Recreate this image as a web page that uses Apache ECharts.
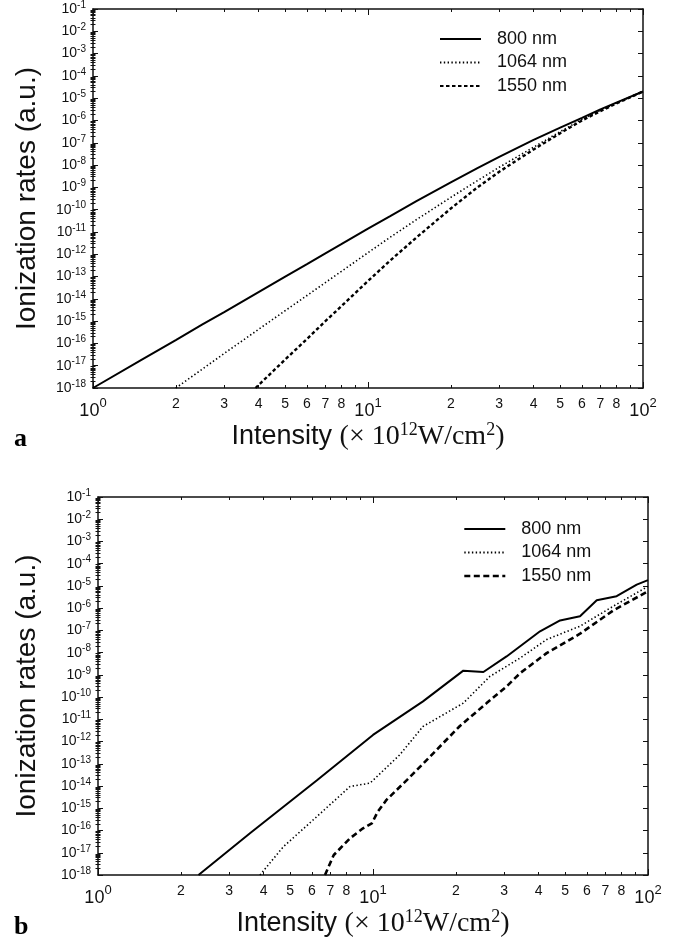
<!DOCTYPE html>
<html>
<head>
<meta charset="utf-8">
<script src="https://cdn.jsdelivr.net/npm/echarts@6/dist/echarts.min.js"></script>
<style>
  html, body { margin: 0; padding: 0; background: #fff; }
  #chart { width: 683px; height: 945px; }
</style>
</head>
<body>
<div id="chart"></div>
<script>
// values; rates are stored as log10 of the rate (a.u.)
const seriesNames = ['800 nm', '1064 nm', '1550 nm'];

// panel a
const intensityA800 = [1, 1.5, 2, 2.5, 3, 4, 5, 6, 7, 8, 10, 12, 15, 20, 25, 30, 40, 50, 60, 70, 80, 100];
const rateA800 = [-18, -16.74, -15.85, -15.15, -14.6, -13.7, -13.0, -12.44, -11.96, -11.55, -10.85, -10.3, -9.62, -8.78, -8.14, -7.63, -6.87, -6.32, -5.88, -5.5, -5.2, -4.7];
const intensityA1064 = [2, 2.5, 3, 4, 5, 6, 7, 8, 10, 12, 15, 20, 25, 30, 40, 50, 60, 70, 80, 100];
const rateA1064 = [-18, -17.15, -16.45, -15.37, -14.53, -13.85, -13.27, -12.77, -11.93, -11.25, -10.45, -9.45, -8.7, -8.1, -7.2, -6.5, -5.95, -5.55, -5.22, -4.7];
const intensityA1550 = [3.9, 5, 6, 7, 8, 10, 12, 15, 20, 25, 30, 40, 50, 60, 70, 80, 100];
const rateA1550 = [-18, -16.72, -15.8, -15.0, -14.33, -13.2, -12.3, -11.25, -9.95, -9.0, -8.3, -7.3, -6.57, -6.0, -5.58, -5.24, -4.7];

// panel b
const intensityB800 = [2.32, 3.57, 6.24, 10, 15.2, 21.3, 25.2, 30.6, 40.5, 47.9, 56.6, 65.1, 76.9, 91, 100];
const rateB800 = [-18, -16.12, -13.75, -11.7, -10.19, -8.81, -8.87, -8.17, -7.04, -6.55, -6.36, -5.64, -5.46, -4.94, -4.74];
const intensityB1064 = [3.88, 4.72, 6.24, 8.25, 9.75, 12.5, 15.2, 21.3, 26.6, 34.3, 42.8, 56.6, 74.8, 100];
const rateB1064 = [-18, -16.73, -15.38, -14.02, -13.87, -12.6, -11.32, -10.27, -9.07, -8.24, -7.41, -6.81, -5.91, -5.02];
const intensityB1550 = [6.69, 7.2, 8.25, 9.2, 9.9, 10.4, 11.2, 13.3, 15.2, 20.7, 25.9, 30.6, 34.3, 42.8, 56.6, 74.8, 100];
const rateB1550 = [-18, -17.1, -16.35, -15.9, -15.68, -15.16, -14.62, -13.72, -13.0, -11.3, -10.27, -9.52, -8.92, -8.02, -7.15, -6.1, -5.24];

// tick labels
const xLabelValues = [1, 2, 3, 4, 5, 6, 7, 8, 10, 20, 30, 40, 50, 60, 70, 80, 100];
const yDecades = [-18, -17, -16, -15, -14, -13, -12, -11, -10, -9, -8, -7, -6, -5, -4, -3, -2, -1];

const SANS = 'Liberation Sans';
const SERIF = 'Liberation Serif';
const INK = '#111';

const xMajor = [0, 1, 2];
const xMinor = [];
[0, 1].forEach(d => { for (let k = 2; k <= 9; k++) xMinor.push(d + Math.log10(k)); });
const yMinor = [];
for (let n = -18; n < -1; n++) for (let k = 2; k <= 9; k++) yMinor.push(n + Math.log10(k));

function pts (xs, ys) { return xs.map((v, i) => [Math.log10(v), ys[i]]); }

function xLabel (v) {
  const I = Math.round(Math.pow(10, v));
  if (I === 1 || I === 10 || I === 100) return '{d|10}{e|' + Math.round(v) + '}';
  return '{m|' + (I < 10 ? I : I / 10) + '}';
}

const lineCol = { color: INK, width: 1.5 };

function xAxes (g) {
  const base = {
    type: 'value', gridIndex: g, min: 0, max: 2,
    splitLine: { show: false }, axisLabel: { show: false },
    axisLine: { show: false }
  };
  const tick = (len, vals) => ({ show: true, inside: true, length: len, customValues: vals, lineStyle: { color: INK, width: 1 } });
  return [
    Object.assign({}, base, {
      position: 'bottom',
      axisLine: { show: true, onZero: false, lineStyle: lineCol },
      axisTick: tick(6, xMajor),
      axisLabel: {
        show: true, margin: 9, customValues: xLabelValues.map(v => Math.log10(v)),
        formatter: xLabel,
        rich: {
          d: { fontFamily: SANS, fontSize: 18, color: INK, lineHeight: 28 },
          e: { fontFamily: SANS, fontSize: 13, color: INK, verticalAlign: 'top', lineHeight: 18 },
          m: { fontFamily: SANS, fontSize: 14, color: INK, lineHeight: 14 }
        }
      },
      name: '{s|Intensity }{t|(× 10}{u|12}{t|W/cm}{u|2}{t|)}',
      nameLocation: 'middle',
      nameGap: 32,
      nameTextStyle: {
        rich: {
          s: { fontFamily: SANS, fontSize: 27, color: INK, lineHeight: 32 },
          t: { fontFamily: SERIF, fontSize: 28, color: INK, lineHeight: 32 },
          u: { fontFamily: SERIF, fontSize: 18, color: INK, verticalAlign: 'top', lineHeight: 20 }
        }
      }
    }),
    Object.assign({}, base, { position: 'bottom', axisTick: tick(3, xMinor) }),
    Object.assign({}, base, { position: 'top', axisLine: { show: true, onZero: false, lineStyle: lineCol }, axisTick: tick(6, xMajor) }),
    Object.assign({}, base, { position: 'top', axisTick: tick(3, xMinor) })
  ];
}

function yAxes (g, gap) {
  const base = {
    type: 'value', gridIndex: g, min: -18, max: -1,
    splitLine: { show: false }, axisLabel: { show: false },
    axisLine: { show: false }
  };
  const tick = (len, vals) => ({ show: true, inside: true, length: len, customValues: vals, lineStyle: { color: INK, width: 1 } });
  return [
    Object.assign({}, base, {
      position: 'left',
      axisLine: { show: true, onZero: false, lineStyle: lineCol },
      axisTick: tick(5, yDecades),
      axisLabel: {
        show: true, margin: 7, customValues: yDecades,
        formatter: v => '{d|10}{e|' + v + '}',
        rich: {
          d: { fontFamily: SANS, fontSize: 14, color: INK, lineHeight: 18 },
          e: { fontFamily: SANS, fontSize: 10, color: INK, verticalAlign: 'top', lineHeight: 12 }
        }
      },
      name: 'Ionization rates (a.u.)',
      nameLocation: 'middle',
      nameRotate: 90,
      nameGap: gap,
      nameTextStyle: { fontFamily: SANS, fontSize: 28, color: INK }
    }),
    Object.assign({}, base, { position: 'left', axisTick: tick(2.5, yMinor) }),
    Object.assign({}, base, { position: 'right', axisLine: { show: true, onZero: false, lineStyle: lineCol }, axisTick: tick(5, yDecades) }),
    Object.assign({}, base, { position: 'right', axisTick: tick(2.5, yMinor) })
  ];
}

const styles = {
  solid: { color: '#000', width: 2, type: 'solid' },
  dotted: { color: '#000', width: 1.6, type: [1.4, 2.4] },
  shortDash: { color: '#000', width: 2.4, type: [3.5, 2.5] },
  longDash: { color: '#000', width: 2.6, type: [6, 3.5] }
};

function line (name, data, g, style) {
  return {
    name, type: 'line', data, xAxisIndex: g * 4, yAxisIndex: g * 4,
    symbol: 'none', showSymbol: false, smooth: false, clip: true,
    lineStyle: style, itemStyle: { color: '#000', opacity: 0 }, silent: true, animation: false
  };
}

const legendText = { fontFamily: SANS, fontSize: 18, color: INK, lineHeight: 18, padding: [0, 0, 0, 11] };
// legend draws only the line sample, no marker
const legendBase = {
  orient: 'vertical', padding: 0, itemGap: 5.5,
  itemWidth: 41, itemHeight: 12, selectedMode: false,
  itemStyle: { opacity: 0 }, textStyle: legendText
};

const option = {
  backgroundColor: '#fff',
  animation: false,
  grid: [
    { left: 93, top: 9, width: 550, height: 379, containLabel: false },
    { left: 98, top: 497, width: 550, height: 378, containLabel: false }
  ],
  xAxis: xAxes(0).concat(xAxes(1)),
  yAxis: yAxes(0, 52).concat(yAxes(1, 57)),
  legend: [
    Object.assign({}, legendBase, { left: 439, top: 30, data: seriesNames }),
    Object.assign({}, legendBase, {
      left: 463, top: 520,
      data: [
        { name: seriesNames[0] },
        { name: seriesNames[1] },
        { name: seriesNames[2], lineStyle: { type: styles.longDash.type, width: styles.longDash.width } }
      ]
    })
  ],
  graphic: [
    { type: 'text', left: 14, top: 426, style: { text: 'a', font: 'bold 26px "Liberation Serif"', fill: '#000' } },
    { type: 'text', left: 14, top: 914, style: { text: 'b', font: 'bold 26px "Liberation Serif"', fill: '#000' } }
  ],
  series: [
    line(seriesNames[0], pts(intensityA800, rateA800), 0, styles.solid),
    line(seriesNames[1], pts(intensityA1064, rateA1064), 0, styles.dotted),
    line(seriesNames[2], pts(intensityA1550, rateA1550), 0, styles.shortDash),
    line(seriesNames[0], pts(intensityB800, rateB800), 1, styles.solid),
    line(seriesNames[1], pts(intensityB1064, rateB1064), 1, styles.dotted),
    line(seriesNames[2], pts(intensityB1550, rateB1550), 1, styles.longDash)
  ]
};

const chart = echarts.init(document.getElementById('chart'), null, { renderer: 'canvas' });
chart.setOption(option);
</script>
</body>
</html>
